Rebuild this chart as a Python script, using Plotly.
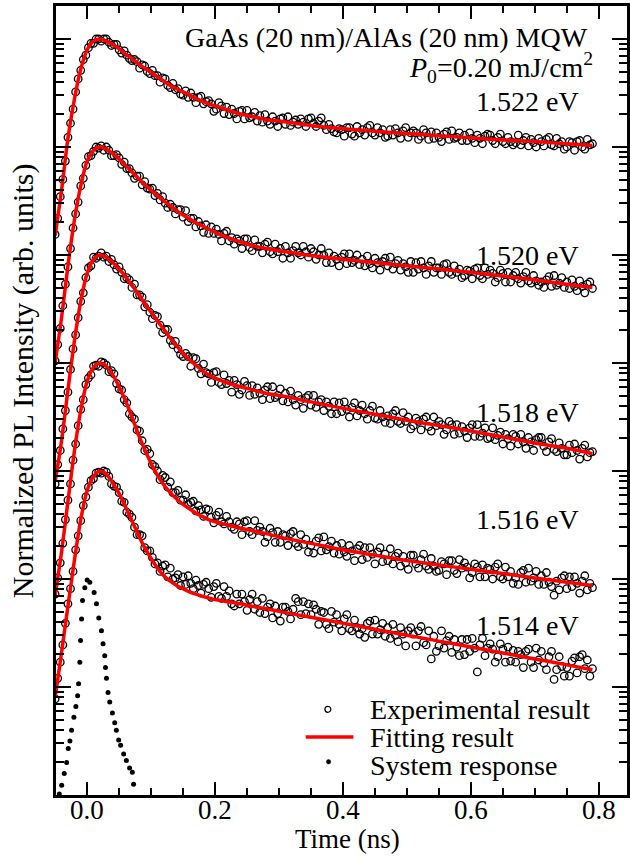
import numpy as np
import plotly.graph_objects as go

FONT = "Liberation Serif, Times New Roman, serif"

# ---------------------------------------------------------------------------
# Data: log10 of the normalized PL intensity (peak = 0) for each detection
# energy. Experimental traces are sampled every 4 ps starting at -0.05 ns.
# ---------------------------------------------------------------------------
energies = ["1.522 eV", "1.520 eV", "1.518 eV", "1.516 eV", "1.514 eV"]
stack_decade = [7, 6, 5, 4, 3]        # vertical offset of each trace (decades)
sys_decade = 2

exp_start = -0.05
exp_step = 0.004

exp_1522 = [
    -1.81, -1.66, -1.46, -1.30, -1.13, -0.91, -0.78, -0.65, -0.49, -0.37,
    -0.29, -0.19, -0.15, -0.08, -0.04, -0.04, 0.00, 0.00, -0.02, 0.00,
    0.00, -0.03, -0.06, -0.05, -0.05, -0.10, -0.13, -0.11, -0.15, -0.18,
    -0.20, -0.19, -0.21, -0.27, -0.24, -0.25, -0.30, -0.32, -0.29, -0.34,
    -0.34, -0.40, -0.36, -0.37, -0.43, -0.45, -0.41, -0.47, -0.46, -0.51,
    -0.52, -0.48, -0.54, -0.50, -0.54, -0.59, -0.54, -0.53, -0.60, -0.58,
    -0.57, -0.60, -0.67, -0.65, -0.59, -0.62, -0.69, -0.63, -0.70, -0.65,
    -0.69, -0.74, -0.67, -0.66, -0.74, -0.66, -0.73, -0.72, -0.68, -0.76,
    -0.71, -0.77, -0.70, -0.76, -0.79, -0.72, -0.76, -0.81, -0.74, -0.73,
    -0.79, -0.72, -0.80, -0.77, -0.75, -0.79, -0.74, -0.77, -0.81, -0.74,
    -0.73, -0.78, -0.81, -0.76, -0.73, -0.80, -0.84, -0.79, -0.83, -0.86,
    -0.87, -0.83, -0.84, -0.90, -0.82, -0.82, -0.88, -0.90, -0.81, -0.87,
    -0.84, -0.89, -0.82, -0.80, -0.87, -0.89, -0.82, -0.87, -0.84, -0.91,
    -0.90, -0.84, -0.89, -0.83, -0.87, -0.92, -0.85, -0.82, -0.91, -0.87,
    -0.85, -0.87, -0.93, -0.90, -0.84, -0.87, -0.93, -0.86, -0.92, -0.87,
    -0.91, -0.95, -0.88, -0.86, -0.93, -0.85, -0.92, -0.91, -0.87, -0.94,
    -0.89, -0.94, -0.87, -0.92, -0.96, -0.89, -0.92, -0.97, -0.90, -0.88,
    -0.89, -0.94, -0.97, -0.91, -0.88, -0.95, -0.97, -0.91, -0.95, -0.98,
    -0.96, -0.89, -0.98, -0.94, -0.91, -0.99, -0.93, -0.96, -1.00, -0.92,
    -0.95, -0.99, -0.93, -0.91, -0.98, -0.99, -0.92, -0.97, -0.95, -1.02,
    -1.00, -0.95, -0.96, -1.03, -0.95, -0.94, -1.00, -1.02, -0.93, -0.98,
    -0.97,
]

exp_1520 = [
    -1.98, -1.83, -1.68, -1.47, -1.27, -1.11, -0.94, -0.75, -0.62, -0.51,
    -0.36, -0.29, -0.17, -0.09, -0.08, -0.04, 0.00, -0.01, 0.01, -0.03,
    0.00, -0.03, -0.08, -0.08, -0.07, -0.10, -0.16, -0.14, -0.20, -0.20,
    -0.24, -0.29, -0.27, -0.27, -0.35, -0.32, -0.38, -0.39, -0.38, -0.45,
    -0.43, -0.49, -0.46, -0.52, -0.56, -0.53, -0.56, -0.62, -0.58, -0.58,
    -0.65, -0.59, -0.69, -0.66, -0.66, -0.74, -0.69, -0.73, -0.79, -0.72,
    -0.80, -0.74, -0.80, -0.76, -0.81, -0.87, -0.80, -0.78, -0.87, -0.84,
    -0.90, -0.85, -0.87, -0.94, -0.85, -0.85, -0.93, -0.96, -0.86, -0.92,
    -0.92, -0.98, -0.90, -0.88, -0.97, -0.99, -0.90, -0.97, -0.94, -1.03,
    -0.92, -0.98, -1.03, -0.96, -0.92, -0.98, -1.00, -0.92, -0.97, -1.02,
    -0.94, -0.97, -1.04, -1.00, -0.94, -1.00, -1.07, -0.98, -1.07, -1.01,
    -1.04, -1.10, -1.02, -0.99, -1.08, -0.99, -1.07, -1.05, -1.00, -1.09,
    -1.04, -1.10, -1.01, -1.08, -1.12, -1.03, -1.07, -1.14, -1.06, -1.03,
    -1.10, -1.02, -1.13, -1.08, -1.05, -1.14, -1.08, -1.11, -1.16, -1.06,
    -1.16, -1.07, -1.13, -1.06, -1.12, -1.18, -1.10, -1.06, -1.16, -1.12,
    -1.12, -1.18, -1.09, -1.08, -1.16, -1.18, -1.10, -1.16, -1.13, -1.21,
    -1.19, -1.14, -1.15, -1.22, -1.13, -1.12, -1.19, -1.22, -1.12, -1.18,
    -1.14, -1.17, -1.25, -1.21, -1.14, -1.17, -1.25, -1.16, -1.25, -1.19,
    -1.16, -1.22, -1.26, -1.20, -1.16, -1.24, -1.26, -1.19, -1.24, -1.28,
    -1.25, -1.30, -1.23, -1.20, -1.29, -1.19, -1.28, -1.26, -1.21, -1.30,
    -1.25, -1.31, -1.23, -1.29, -1.33, -1.24, -1.29, -1.35, -1.27, -1.25,
    -1.31,
]

exp_1518 = [
    -2.12, -1.94, -1.81, -1.61, -1.44, -1.27, -1.06, -0.87, -0.74, -0.58,
    -0.43, -0.35, -0.21, -0.12, -0.10, -0.02, -0.03, -0.01, 0.02, -0.02,
    -0.01, -0.06, -0.04, -0.09, -0.13, -0.11, -0.16, -0.22, -0.21, -0.23,
    -0.30, -0.27, -0.37, -0.37, -0.39, -0.48, -0.46, -0.53, -0.59, -0.56,
    -0.57, -0.65, -0.72, -0.69, -0.69, -0.79, -0.83, -0.80, -0.87, -0.92,
    -0.94, -0.91, -0.94, -1.03, -0.95, -0.96, -1.05, -1.10, -1.01, -1.09,
    -1.10, -1.18, -1.09, -1.08, -1.18, -1.20, -1.11, -1.19, -1.16, -1.27,
    -1.16, -1.20, -1.29, -1.25, -1.17, -1.21, -1.30, -1.21, -1.29, -1.23,
    -1.28, -1.34, -1.25, -1.22, -1.33, -1.22, -1.32, -1.30, -1.24, -1.35,
    -1.28, -1.36, -1.26, -1.34, -1.39, -1.30, -1.34, -1.42, -1.32, -1.30,
    -1.39, -1.30, -1.41, -1.36, -1.34, -1.44, -1.36, -1.40, -1.47, -1.36,
    -1.47, -1.37, -1.45, -1.36, -1.43, -1.50, -1.41, -1.37, -1.49, -1.44,
    -1.39, -1.47, -1.52, -1.44, -1.40, -1.51, -1.52, -1.44, -1.50, -1.55,
    -1.49, -1.56, -1.47, -1.44, -1.54, -1.56, -1.46, -1.54, -1.50, -1.61,
    -1.58, -1.51, -1.54, -1.62, -1.52, -1.50, -1.59, -1.63, -1.50, -1.58,
    -1.54, -1.57, -1.66, -1.62, -1.54, -1.57, -1.66, -1.57, -1.65, -1.59,
    -1.63, -1.69, -1.60, -1.57, -1.68, -1.57, -1.68, -1.65, -1.60, -1.70,
    -1.69, -1.60, -1.71, -1.67, -1.64, -1.75, -1.66, -1.70, -1.77, -1.66,
    -1.68, -1.75, -1.66, -1.73, -1.79, -1.69, -1.73, -1.81, -1.71, -1.69,
    -1.69, -1.77, -1.82, -1.73, -1.70, -1.80, -1.82, -1.74, -1.79, -1.85,
    -1.85, -1.76, -1.83, -1.75, -1.81, -1.89, -1.79, -1.76, -1.87, -1.83,
    -1.82,
]

exp_1516 = [
    -2.14, -1.99, -1.85, -1.67, -1.45, -1.27, -1.12, -0.90, -0.75, -0.58,
    -0.43, -0.34, -0.20, -0.14, -0.11, -0.03, -0.02, -0.03, 0.01, 0.00,
    -0.02, -0.08, -0.07, -0.10, -0.19, -0.24, -0.25, -0.34, -0.37, -0.47,
    -0.50, -0.52, -0.62, -0.63, -0.72, -0.81, -0.80, -0.84, -0.94, -0.96,
    -1.00, -1.08, -1.04, -1.06, -1.15, -1.10, -1.20, -1.20, -1.18, -1.27,
    -1.27, -1.22, -1.31, -1.29, -1.28, -1.37, -1.32, -1.36, -1.42, -1.35,
    -1.36, -1.43, -1.48, -1.41, -1.38, -1.47, -1.49, -1.42, -1.47, -1.52,
    -1.54, -1.47, -1.49, -1.59, -1.47, -1.46, -1.56, -1.59, -1.46, -1.55,
    -1.52, -1.56, -1.66, -1.61, -1.53, -1.57, -1.66, -1.56, -1.66, -1.59,
    -1.60, -1.69, -1.58, -1.56, -1.67, -1.70, -1.59, -1.68, -1.63, -1.75,
    -1.69, -1.76, -1.65, -1.62, -1.74, -1.61, -1.73, -1.70, -1.65, -1.76,
    -1.69, -1.77, -1.67, -1.75, -1.79, -1.69, -1.74, -1.83, -1.72, -1.69,
    -1.82, -1.71, -1.80, -1.71, -1.77, -1.86, -1.75, -1.71, -1.84, -1.77,
    -1.83, -1.72, -1.86, -1.79, -1.76, -1.88, -1.79, -1.85, -1.91, -1.78,
    -1.78, -1.86, -1.90, -1.82, -1.77, -1.88, -1.91, -1.81, -1.88, -1.93,
    -1.92, -1.84, -1.86, -1.96, -1.83, -1.83, -1.92, -1.95, -1.82, -1.90,
    -1.85, -1.89, -1.99, -1.94, -1.86, -1.89, -1.98, -1.87, -1.98, -1.90,
    -1.91, -2.00, -1.89, -1.86, -1.98, -2.00, -1.89, -1.98, -1.93, -2.04,
    -1.99, -2.05, -1.94, -1.92, -2.03, -1.90, -2.02, -1.99, -1.93, -2.05,
    -1.97, -2.05, -1.94, -2.03, -2.07, -2.15, -2.02, -2.10, -1.99, -1.97,
    -2.09, -1.98, -2.07, -1.98, -2.04, -2.13, -2.02, -1.97, -2.10, -2.04,
    -2.08,
]

exp_1514 = [
    -2.11, -1.92, -1.77, -1.61, -1.41, -1.23, -1.09, -0.93, -0.73, -0.60,
    -0.46, -0.32, -0.24, -0.15, -0.09, -0.07, -0.02, -0.01, -0.02, 0.00,
    -0.01, -0.05, -0.12, -0.14, -0.15, -0.20, -0.28, -0.29, -0.38, -0.40,
    -0.43, -0.52, -0.59, -0.59, -0.60, -0.71, -0.74, -0.74, -0.80, -0.86,
    -0.85, -0.93, -0.88, -0.87, -0.98, -0.90, -1.00, -0.99, -0.96, -1.06,
    -0.98, -1.05, -0.97, -1.04, -1.09, -1.01, -1.06, -1.13, -1.05, -1.03,
    -1.09, -1.17, -1.07, -1.04, -1.16, -1.18, -1.07, -1.16, -1.11, -1.23,
    -1.25, -1.14, -1.23, -1.14, -1.21, -1.29, -1.19, -1.14, -1.28, -1.21,
    -1.31, -1.18, -1.32, -1.26, -1.23, -1.36, -1.25, -1.32, -1.39, -1.26,
    -1.26, -1.30, -1.37, -1.28, -1.18, -1.21, -1.33, -1.21, -1.32, -1.23,
    -1.33, -1.24, -1.28, -1.42, -1.30, -1.31, -1.42, -1.46, -1.30, -1.40,
    -1.33, -1.42, -1.48, -1.37, -1.33, -1.46, -1.48, -1.38, -1.45, -1.51,
    -1.46, -1.54, -1.41, -1.39, -1.51, -1.38, -1.51, -1.47, -1.41, -1.53,
    -1.45, -1.55, -1.42, -1.52, -1.58, -1.45, -1.51, -1.62, -1.48, -1.45,
    -1.51, -1.62, -1.48, -1.44, -1.59, -1.61, -1.48, -1.74, -1.53, -1.67,
    -1.62, -1.48, -1.64, -1.57, -1.53, -1.68, -1.56, -1.63, -1.71, -1.56,
    -1.70, -1.56, -1.67, -1.55, -1.64, -1.86, -1.61, -1.55, -1.71, -1.64,
    -1.60, -1.65, -1.77, -1.72, -1.60, -1.65, -1.77, -1.63, -1.76, -1.66,
    -1.77, -1.67, -1.70, -1.82, -1.67, -1.65, -1.77, -1.82, -1.64, -1.75,
    -1.67, -1.78, -1.84, -1.72, -1.67, -1.93, -1.84, -1.72, -1.81, -1.90,
    -1.82, -1.90, -1.76, -1.73, -1.87, -1.72, -1.70, -1.83, -1.75, -1.90,
    -1.83,
]

exp_traces = [exp_1522, exp_1520, exp_1518, exp_1516, exp_1514]

# Fitted decays (log10 of normalized intensity) on a coarser time grid (ns)
fit_time = [
    -0.05, -0.04, -0.03, -0.02, -0.01, 0.00, 0.01, 0.02, 0.03, 0.04,
    0.05, 0.06, 0.07, 0.08, 0.09, 0.10, 0.11, 0.12, 0.13, 0.14,
    0.15, 0.16, 0.17, 0.18, 0.19, 0.20, 0.22, 0.24, 0.26, 0.28,
    0.30, 0.35, 0.40, 0.45, 0.50, 0.55, 0.60, 0.65, 0.70, 0.75, 0.79,
]
fit_1522 = [
    -1.82, -1.40, -0.92, -0.56, -0.28, -0.10, -0.02, 0.00, -0.02, -0.05,
    -0.09, -0.14, -0.18, -0.23, -0.27, -0.31, -0.35, -0.39, -0.43, -0.46,
    -0.49, -0.52, -0.55, -0.575, -0.60, -0.62, -0.66, -0.695, -0.72, -0.745,
    -0.76, -0.80, -0.83, -0.855, -0.875, -0.895, -0.915, -0.935, -0.95, -0.97, -0.985,
]
fit_1520 = [
    -2.00, -1.58, -1.10, -0.68, -0.36, -0.13, -0.03, 0.00, -0.02, -0.06,
    -0.11, -0.17, -0.23, -0.29, -0.35, -0.40, -0.45, -0.50, -0.545, -0.59,
    -0.63, -0.665, -0.70, -0.73, -0.76, -0.79, -0.84, -0.88, -0.915, -0.94,
    -0.96, -1.005, -1.04, -1.07, -1.10, -1.13, -1.16, -1.195, -1.23, -1.27, -1.30,
]
fit_1518 = [
    -2.10, -1.72, -1.25, -0.80, -0.43, -0.17, -0.04, 0.00, -0.02, -0.07,
    -0.13, -0.20, -0.28, -0.36, -0.45, -0.53, -0.61, -0.69, -0.77, -0.84,
    -0.91, -0.97, -1.02, -1.07, -1.11, -1.14, -1.185, -1.22, -1.25, -1.28,
    -1.30, -1.36, -1.42, -1.475, -1.53, -1.58, -1.63, -1.685, -1.74, -1.79, -1.84,
]
fit_1516 = [
    -2.15, -1.75, -1.28, -0.82, -0.44, -0.17, -0.04, 0.00, -0.03, -0.11,
    -0.22, -0.35, -0.50, -0.66, -0.80, -0.93, -1.04, -1.13, -1.20, -1.26,
    -1.31, -1.35, -1.39, -1.42, -1.45, -1.47, -1.50, -1.53, -1.555, -1.58,
    -1.61, -1.67, -1.73, -1.78, -1.83, -1.87, -1.91, -1.95, -1.99, -2.03, -2.06,
]
fit_1514 = [
    -2.10, -1.68, -1.25, -0.83, -0.45, -0.18, -0.05, 0.00, -0.03, -0.11,
    -0.21, -0.33, -0.46, -0.59, -0.71, -0.81, -0.90, -0.97, -1.02, -1.06,
    -1.09, -1.12, -1.14, -1.16, -1.175, -1.19, -1.21, -1.23, -1.255, -1.275,
    -1.30, -1.355, -1.41, -1.465, -1.52, -1.575, -1.63, -1.685, -1.74, -1.795, -1.84,
]
fit_traces = [fit_1522, fit_1520, fit_1518, fit_1516, fit_1514]

# Instrument (system) response
sys_time = [
    -0.0435, -0.0398, -0.0358, -0.0320, -0.0295, -0.0269, -0.0243, -0.0207,
    -0.0176, -0.0149, -0.0134, -0.0114, -0.0103, -0.0087, -0.0072, -0.0036,
    0.0000, 0.0042, 0.0109, 0.0146, 0.0182, 0.0224, 0.0249, 0.0275, 0.0286,
    0.0302, 0.0327, 0.0353, 0.0395, 0.0431, 0.0457, 0.0493, 0.0524, 0.0571,
    0.0613, 0.0664, 0.0706, 0.0726,
]
sys_log = [
    -1.99, -1.91, -1.80, -1.70, -1.57, -1.50, -1.40, -1.28,
    -1.18, -1.08, -0.97, -0.77, -0.57, -0.37, -0.20, -0.08,
    -0.01, -0.03, -0.125, -0.23, -0.36, -0.48, -0.60, -0.71, -0.82,
    -0.92, -1.05, -1.14, -1.24, -1.33, -1.40, -1.49, -1.54, -1.62,
    -1.68, -1.75, -1.79, -1.90,
]

x_tick_vals = [0.0, 0.2, 0.4, 0.6, 0.8]

# ---------------------------------------------------------------------------
# Figure geometry
# ---------------------------------------------------------------------------
W, H = 630, 857
ML, MR, MT, MB = 56, 0, 6, 62
PW, PH = W - ML - MR, H - MT - MB
PX_PER_NS = 643.0
T_ZERO_PX = 87.3
PX_PER_DECADE = 108.0

x_range = [(ML - T_ZERO_PX) / PX_PER_NS, (W - MR - T_ZERO_PX) / PX_PER_NS]
y_range = [0, PH / PX_PER_DECADE]


def fx(px):
    return (px - ML) / PW


def fy(py):
    return (H - MB - py) / PH


fig = go.Figure()

for vals, dec in zip(exp_traces, stack_decade):
    t = exp_start + exp_step * np.arange(len(vals))
    fig.add_trace(go.Scatter(
        x=t, y=10 ** (np.array(vals) + dec), mode="markers",
        marker=dict(symbol="circle-open", size=7.5, color="black",
                    line=dict(width=1.3, color="black")),
        showlegend=False))

for vals, dec in zip(fit_traces, stack_decade):
    fig.add_trace(go.Scatter(
        x=fit_time, y=10 ** (np.array(vals) + dec), mode="lines",
        line=dict(color="#ff0000", width=3.5, shape="spline", smoothing=0.8),
        showlegend=False))

fig.add_trace(go.Scatter(
    x=sys_time, y=10 ** (np.array(sys_log) + sys_decade), mode="markers",
    marker=dict(symbol="circle", size=5, color="black"),
    showlegend=False))

axis_common = dict(showline=True, linewidth=2.5, linecolor="black",
                   mirror="ticks", ticks="inside", tickcolor="black",
                   showgrid=False, zeroline=False)

fig.update_xaxes(
    range=x_range, tick0=0, dtick=0.2, showticklabels=False,
    ticklen=13, tickwidth=2,
    minor=dict(ticks="inside", ticklen=7, tickwidth=2, tick0=0, dtick=0.05,
               tickcolor="black", showgrid=False),
    **axis_common)

fig.update_yaxes(
    type="log", range=y_range, dtick=1, showticklabels=False,
    ticklen=15, tickwidth=2,
    minor=dict(ticks="inside", ticklen=8, tickwidth=2, dtick="D1",
               tickcolor="black", showgrid=False),
    **axis_common)

ann = []


def text(px, py, s, size=28, xanchor="right", yanchor="middle", angle=0):
    ann.append(dict(x=fx(px), y=fy(py), xref="paper", yref="paper",
                    text=s, showarrow=False, xanchor=xanchor, yanchor=yanchor,
                    textangle=angle,
                    font=dict(family=FONT, size=size, color="black")))


# x tick labels, placed just under the axis
for v in x_tick_vals:
    ann.append(dict(x=v, y=fy(810), xref="x", yref="paper", text=f"{v:.1f}",
                    showarrow=False, xanchor="center", yanchor="middle",
                    font=dict(family=FONT, size=27, color="black")))

text(593, 38, "GaAs (20 nm)/AlAs (20 nm) MQW")
text(598, 68, "<i>P</i><sub>0</sub>=0.20 mJ/cm<sup>2</sup>")
for lab, py in zip(energies, [101, 256, 412, 519, 625]):
    text(584, py, lab)

text(349, 839, "Time (ns)", size=27, xanchor="center")
text(23, 381, "Normalized PL Intensity (arb. units)", size=30,
     xanchor="center", angle=-90)

# key
text(370, 709, "Experimental result", xanchor="left")
text(370, 737, "Fitting result", xanchor="left")
text(370, 765, "System response", xanchor="left")

shapes = [
    dict(type="circle", xref="paper", yref="paper",
         x0=fx(326.3), x1=fx(332.3), y0=fy(712.3), y1=fy(706.3),
         line=dict(color="black", width=1.2)),
    dict(type="line", xref="paper", yref="paper",
         x0=fx(307), x1=fx(355), y0=fy(737), y1=fy(737),
         line=dict(color="#ff0000", width=3.5)),
    dict(type="circle", xref="paper", yref="paper",
         x0=fx(327.8), x1=fx(332.2), y0=fy(764), y1=fy(759.6),
         fillcolor="black", line=dict(color="black", width=0.5)),
]

fig.update_layout(
    width=W, height=H,
    margin=dict(l=ML, r=MR, t=MT, b=MB, pad=0),
    paper_bgcolor="white", plot_bgcolor="white",
    font=dict(family=FONT, color="black"),
    annotations=ann, shapes=shapes, showlegend=False,
)

fig.write_html("out.html")
